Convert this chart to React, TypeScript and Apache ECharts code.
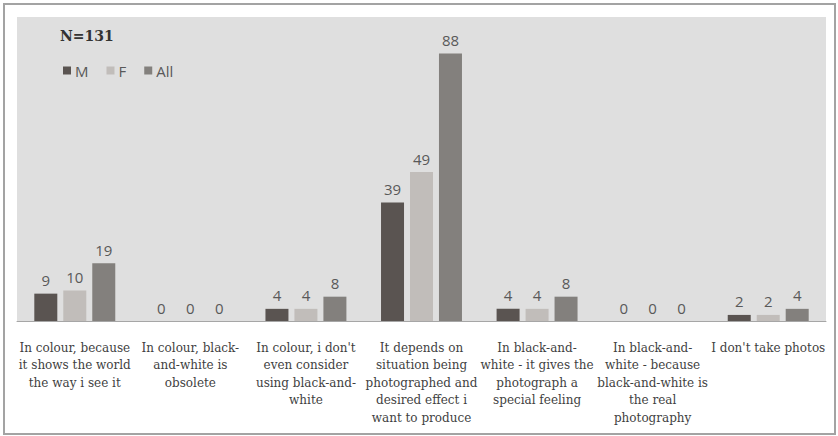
import React, { useEffect, useRef } from "react";
import * as echarts from "echarts";

const categories = [
  "In colour, because\nit shows the world\nthe way i see it",
  "In colour, black-\nand-white is\nobsolete",
  "In colour, i don't\neven consider\nusing black-and-\nwhite",
  "It depends on\nsituation being\nphotographed and\ndesired effect i\nwant to produce",
  "In black-and-\nwhite - it gives the\nphotograph a\nspecial feeling",
  "In black-and-\nwhite - because\nblack-and-white is\nthe real\nphotography",
  "I don't take photos",
];
const seriesNames = ["M", "F", "All"];
const valuesM = [9, 0, 4, 39, 4, 0, 2];
const valuesF = [10, 0, 4, 49, 4, 0, 2];
const valuesAll = [19, 0, 8, 88, 8, 0, 4];
const colors = ["#5a5451", "#c1bdba", "#83807d"];
const titleText = "N=131";

export default function App() {
  const ref = useRef<HTMLDivElement>(null);
  useEffect(() => {
    if (!ref.current) return;
    const chart = echarts.init(ref.current, null, { renderer: "svg" });
    const labelCfg = {
      show: true,
      position: "top" as const,
      distance: 6,
      fontSize: 15,
      color: "#595959",
      fontFamily: "Open Sans",
    };
    const data = [valuesM, valuesF, valuesAll];
    chart.setOption({
      animation: false,
      backgroundColor: "#ffffff",
      title: {
        text: titleText,
        left: 55,
        top: 24,
        textStyle: {
          fontFamily: "DejaVu Serif",
          fontWeight: "bold",
          fontSize: 14,
          color: "#333333",
        },
      },
      legend: {
        left: 58,
        top: 58,
        itemWidth: 8,
        itemHeight: 8,
        itemGap: 18,
        icon: "rect",
        data: seriesNames,
        textStyle: {
          fontFamily: "Open Sans",
          fontSize: 15,
          color: "#595959",
          padding: [0, 0, 0, -1],
        },
      },
      grid: {
        left: 17,
        right: 12,
        top: 17,
        bottom: 115,
        show: true,
        backgroundColor: "#dfdfdf",
        borderWidth: 0,
      },
      xAxis: {
        type: "category",
        data: categories,
        axisLine: { lineStyle: { color: "#a6a6a6", width: 1 } },
        axisTick: { show: false },
        axisLabel: {
          interval: 0,
          margin: 18,
          fontFamily: "DejaVu Serif",
          fontSize: 12,
          lineHeight: 17.5,
          color: "#3f3f3f",
        },
      },
      yAxis: {
        type: "value",
        min: 0,
        max: 100,
        show: false,
        splitLine: { show: false },
      },
      series: seriesNames.map((name, i) => ({
        name,
        type: "bar",
        data: data[i],
        barWidth: 23,
        barGap: "26%",
        itemStyle: { color: colors[i] },
        label: labelCfg,
      })),
      graphic: [
        {
          type: "rect",
          shape: { x: 4, y: 4, width: 831, height: 430 },
          style: { fill: "none", stroke: "#a3a3a3", lineWidth: 2 },
          silent: true,
        },
      ],
    });
    return () => chart.dispose();
  }, []);
  return (
    <div
      ref={ref}
      style={{ position: "absolute", left: 0, top: 0, width: 838, height: 436 }}
    />
  );
}
